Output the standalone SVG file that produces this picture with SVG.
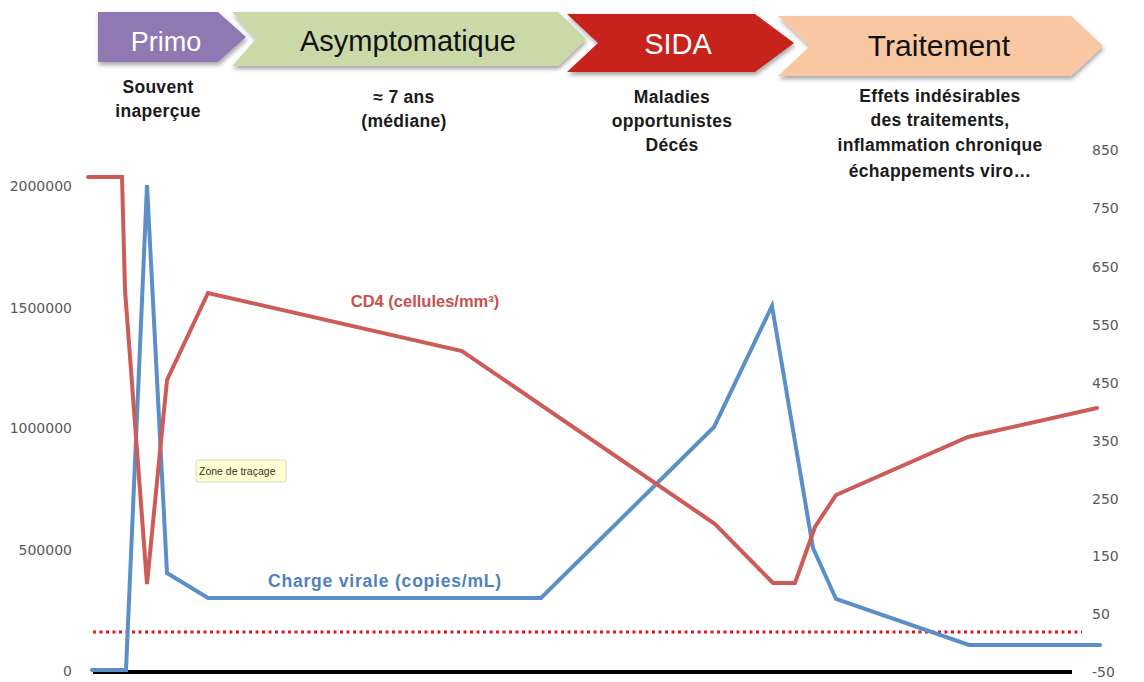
<svg xmlns="http://www.w3.org/2000/svg" width="1144" height="682" viewBox="0 0 1144 682">
<defs>
<filter id="sh" x="-10%" y="-20%" width="120%" height="150%">
<feDropShadow dx="1" dy="3" stdDeviation="2" flood-color="#000" flood-opacity="0.35"/>
</filter>
<style>
.ban{font-family:"Liberation Sans",Arial,sans-serif;text-anchor:middle}
.sub{font-family:"Liberation Sans",Arial,sans-serif;font-weight:bold;font-size:17.5px;letter-spacing:0.3px;fill:#1a1a1a;text-anchor:middle}
.axl{font-family:"DejaVu Sans",sans-serif;font-size:14px;fill:#595959;text-anchor:end}
.axr{font-family:"DejaVu Sans",sans-serif;font-size:14px;fill:#595959;text-anchor:start}
.ser{fill:none;stroke-width:4;stroke-linejoin:miter;stroke-linecap:round}
</style>
</defs>
<rect width="1144" height="682" fill="#fff"/>

<g id="banner-primo">
<polygon points="98,12 218,12 246,37 218,62 98,62" fill="#9079b2" filter="url(#sh)"/>
<text class="ban" x="166" y="51" font-size="27" fill="#fff">Primo</text>
</g>
<g id="banner-asympto">
<polygon points="232,12 558,12 586,39 558,66 232,66 256,39" fill="#c9d9a7" filter="url(#sh)"/>
<text class="ban" x="408" y="51" font-size="29" fill="#111">Asymptomatique</text>
</g>
<g id="banner-sida">
<polygon points="567,14 755,14 794,43 755,72 567,72 598,43" fill="#c8201a" filter="url(#sh)"/>
<text class="ban" x="678" y="54" font-size="29" fill="#fff">SIDA</text>
</g>
<g id="banner-traitement">
<polygon points="778,16 1071,16 1103,46 1071,76 778,76 810,46" fill="#f9c8a2" filter="url(#sh)"/>
<text class="ban" x="939" y="56" font-size="30" fill="#111">Traitement</text>
</g>

<g id="notes">
<text class="sub" x="158" y="93">Souvent</text>
<text class="sub" x="158" y="117">inaperçue</text>
<text class="sub" x="404" y="103" font-weight="normal">≈ 7 ans</text>
<text class="sub" x="404" y="127">(médiane)</text>
<text class="sub" x="672" y="103">Maladies</text>
<text class="sub" x="672" y="127">opportunistes</text>
<text class="sub" x="672" y="151">Décés</text>
<text class="sub" x="940" y="102">Effets indésirables</text>
<text class="sub" x="940" y="126">des traitements,</text>
<text class="sub" x="940" y="151">inflammation chronique</text>
<text class="sub" x="940" y="177">échappements viro…</text>
</g>

<g id="axis-left">
<text class="axl" x="72" y="191">2000000</text>
<text class="axl" x="72" y="313">1500000</text>
<text class="axl" x="72" y="433">1000000</text>
<text class="axl" x="72" y="555">500000</text>
<text class="axl" x="72" y="676">0</text>
</g>
<g id="axis-right">
<text class="axr" x="1092" y="155">850</text>
<text class="axr" x="1092" y="213">750</text>
<text class="axr" x="1092" y="272">650</text>
<text class="axr" x="1092" y="330">550</text>
<text class="axr" x="1092" y="388">450</text>
<text class="axr" x="1092" y="446">350</text>
<text class="axr" x="1092" y="504">250</text>
<text class="axr" x="1092" y="561">150</text>
<text class="axr" x="1092" y="619">50</text>
<text class="axr" x="1092" y="677">-50</text>
</g>

<g id="connectors">
<line x1="93" y1="672" x2="1072" y2="672" stroke="#000" stroke-width="4"/>
<line x1="93" y1="632" x2="1082" y2="632" stroke="#e3161c" stroke-width="3" stroke-dasharray="3 3.5"/>
<polyline class="ser" stroke="#5b8fc8" points="92,670 126,670 147,185 167,573 208,598 541,598 714,427 772,306 813,548 836,599 969,645 1100,645"/>
<polyline class="ser" stroke="#cd5b57" points="88,177 122,177 125,290 147,584 167,380 208,293 462,351 715,524 773,583 795,583 815,527 836,495 968,437 1097,408"/>
</g>

<g id="series-labels">
<text x="425" y="307" font-family="Liberation Sans,Arial,sans-serif" font-weight="bold" font-size="16.5" fill="#c9514d" text-anchor="middle">CD4 (cellules/mm³)</text>
<text x="385" y="587" font-family="Liberation Sans,Arial,sans-serif" font-weight="bold" font-size="17.5" letter-spacing="0.8" fill="#4f81bd" text-anchor="middle">Charge virale (copies/mL)</text>
</g>

<g id="tooltip">
<rect x="196" y="460" width="90" height="22" rx="2" fill="#ffffd2" stroke="#d8d8c0" stroke-width="1"/>
<text x="199" y="475" font-family="Liberation Sans,Arial,sans-serif" font-size="10.5" fill="#333">Zone de traçage</text>
</g>
</svg>
